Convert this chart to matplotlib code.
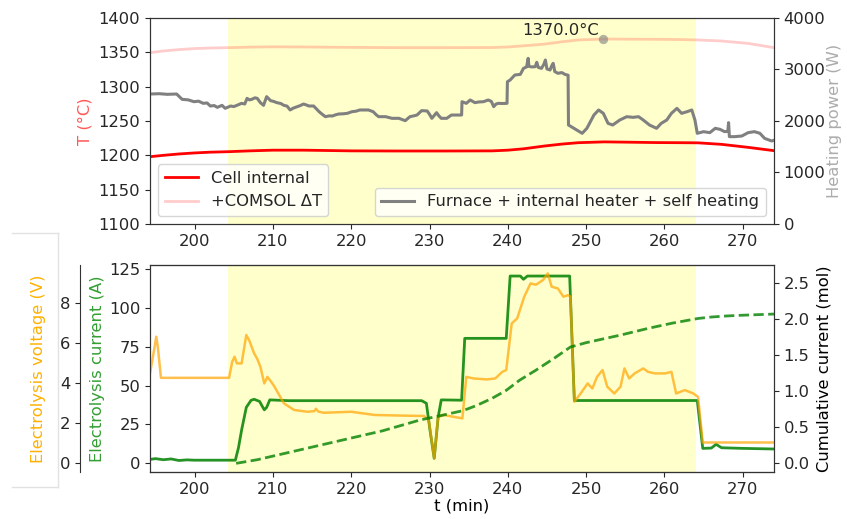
import matplotlib
matplotlib.use("Agg")
import matplotlib.pyplot as plt
from matplotlib.lines import Line2D

plt.rcParams['font.family'] = ['DejaVu Sans']
plt.rcParams['font.size'] = 11.8
TXT = '#262626'
plt.rcParams['text.color'] = TXT
plt.rcParams['xtick.color'] = TXT
plt.rcParams['ytick.color'] = TXT
plt.rcParams['axes.edgecolor'] = '#333333'

# ---------------- data ----------------
span = [204.3, 264.1]

t_cell = [194.3, 196, 198, 200, 202, 204.3, 207, 210, 214, 220, 226, 232, 238, 240,
          242, 244.7, 247, 249, 252.3, 255, 258.8, 262, 264.3, 267.3, 270.7, 274]
cell_T = [1198.0, 1200.0, 1202.0, 1203.5, 1204.6, 1205.3, 1206.5, 1207.5, 1207.5, 1206.5,
          1206.3, 1206.3, 1206.5, 1207.5, 1209.5, 1213.6, 1216.5, 1218.4, 1219.6, 1219.2,
          1218.6, 1218.4, 1218.2, 1216.0, 1211.6, 1206.8]
comsol_T = [1349.5, 1352.0, 1354.0, 1355.5, 1356.3, 1356.8, 1357.6, 1358.0, 1357.8, 1357.2,
            1356.8, 1356.8, 1357.0, 1357.8, 1359.5, 1362.0, 1365.5, 1368.0, 1369.4, 1369.2,
            1369.0, 1368.6, 1368.0, 1366.5, 1363.0, 1356.8]

peak_t = [252.2]
peak_T = [1370.0]
peak_label = '1370.0°C'

t_pow = [194.3, 195.5, 196.5, 197.7, 198.0, 198.4, 199.2, 199.9, 200.5, 201.1, 201.6, 202.0,
         202.5, 202.9, 203.5, 203.9, 204.6, 205.0, 205.4, 206.0, 206.4, 206.7, 207.0, 207.3,
         207.7, 208.0, 208.4, 208.8, 209.2, 209.7, 210.1, 210.5, 211.0, 211.4, 211.8, 212.2,
         212.6, 213.1, 213.5, 213.9, 214.3, 214.6, 215.2, 215.9, 216.3, 216.7, 217.2, 217.6,
         218.0, 218.4, 219.0, 219.5, 220.1, 220.6, 221.1, 221.4, 222.2, 222.8, 223.2, 223.5,
         224.4, 225.2, 226.1, 226.5, 226.9, 227.5, 228.0, 228.4, 229.0, 229.7, 230.0, 230.3,
         230.9, 231.2, 231.5, 232.2, 232.8, 233.5, 234.1, 234.15, 234.7, 235.2, 235.8, 236.3,
         236.9, 237.5, 237.9, 238.2, 238.5, 238.8, 239.3, 239.9, 239.95, 240.3, 240.9, 241.6,
         242.0, 242.4, 242.6, 242.7, 243.1, 243.5, 243.7, 243.9, 244.3, 244.6, 244.8, 245.0,
         245.4, 245.6, 245.8, 246.0, 246.4, 246.9, 247.3, 247.7, 247.75, 248.1, 248.8, 249.5,
         250.1, 251.0, 251.6, 252.2, 252.8, 253.4, 254.3, 255.2, 256.0, 256.7, 257.3, 258.1,
         259.0, 259.6, 260.3, 260.9, 261.6, 262.2, 262.9, 263.5, 263.9, 264.2, 265.0, 265.8,
         266.5, 267.1, 267.7, 268.1, 268.2, 268.3, 269.0, 269.9, 270.7, 271.5, 272.2, 272.8,
         273.7, 274.1]
power = [2524, 2530, 2518, 2524, 2480, 2421, 2410, 2375, 2385, 2343, 2350, 2291,
         2300, 2265, 2304, 2246, 2291, 2280, 2304, 2343, 2330, 2440, 2410, 2421,
         2450, 2440, 2356, 2304, 2473, 2395, 2380, 2356, 2340, 2304, 2290, 2214,
         2250, 2278, 2300, 2330, 2310, 2291, 2291, 2181, 2130, 2084, 2100, 2097,
         2120, 2136, 2140, 2149, 2181, 2190, 2214, 2214, 2214, 2181, 2120, 2084,
         2084, 2052, 2052, 2030, 2006, 2084, 2100, 2116, 2201, 2195, 2130, 2052,
         2162, 2100, 2052, 2052, 2116, 2116, 2116, 2375, 2343, 2408, 2356, 2370,
         2375, 2408, 2380, 2278, 2330, 2343, 2340, 2343, 2763, 2796, 2893, 2905,
         3022, 3050, 3217, 3060, 3050, 3055, 3140, 3040, 3022, 3100, 3184, 3010,
         2990, 3070, 3120, 2960, 2926, 2940, 2905, 2890, 1922, 1890, 1825, 1761,
         1858, 2116, 2214, 2149, 1955, 1922, 2019, 2084, 2071, 2084, 2019, 1922,
         1858, 1955, 2019, 2149, 2246, 2149, 2181, 2214, 2019, 1761, 1793, 1774,
         1858, 1838, 1793, 1800, 1968, 1696, 1696, 1709, 1774, 1793, 1761, 1663,
         1612, 1630]

t_cur = [194.3, 195.0, 196.0, 197.0, 198.0, 199.0, 200.0, 202.0, 204.0, 205.2, 205.6, 206.0,
         206.6, 207.2, 207.6, 208.3, 208.6, 208.9, 209.2, 209.6, 212.0, 220.0, 229.0, 229.6,
         230.1, 230.6, 231.1, 231.5, 234.1, 234.5, 239.8, 240.3, 241.6, 242.0, 242.5, 247.9,
         248.5, 264.2, 264.9, 266.0, 266.6, 267.3, 270.0, 274.0]
current = [2.5, 3.0, 2.3, 2.8, 1.8, 2.2, 2.0, 2.0, 2.0, 2.0, 10.0, 21.4,
           36.0, 40.5, 41.2, 39.8, 37.0, 34.4, 36.0, 40.8, 40.3, 40.3, 40.3, 38.6,
           20.0, 3.2, 29.6, 40.8, 40.6, 80.4, 80.4, 120.5, 120.5, 118.4, 120.5, 120.5,
           40.4, 40.4, 9.6, 9.8, 12.2, 10.0, 9.6, 9.2]

t_volt = [194.3, 194.8, 195.1, 195.3, 195.7, 200.0, 204.4, 204.8, 205.1, 205.4, 206.0, 206.6,
          207.0, 207.6, 208.0, 208.4, 208.9, 209.3, 209.8, 210.2, 211.4, 212.7, 214.4, 215.3,
          215.5, 215.8, 216.5, 220.0, 223.0, 226.4, 229.3, 229.9, 230.6, 231.1, 231.8, 234.2,
          234.7, 235.6, 237.3, 238.4, 239.3, 239.8, 240.5, 241.2, 242.1, 242.9, 243.6, 244.5,
          245.1, 245.6, 246.4, 247.1, 247.7, 248.0, 248.5, 249.3, 250.2, 250.8, 251.4, 252.1,
          252.7, 253.6, 254.4, 254.9, 255.5, 256.2, 257.3, 257.9, 258.8, 260.1, 260.9, 261.5,
          262.6, 263.7, 264.3, 264.9, 270.0, 274.0]
voltage = [4.48, 5.60, 6.31, 5.80, 4.26, 4.26, 4.26, 5.06, 5.31, 4.98, 4.98, 6.39,
           6.10, 5.48, 5.20, 4.81, 3.98, 4.31, 4.05, 3.82, 2.99, 2.66, 2.57, 2.60,
           2.72, 2.58, 2.52, 2.57, 2.41, 2.38, 2.36, 2.16, 0.25, 2.32, 2.41, 2.24,
           4.31, 4.23, 4.18, 4.23, 4.56, 4.65, 6.97, 7.22, 8.30, 8.96, 8.90, 9.13,
           9.46, 8.80, 8.71, 8.30, 8.38, 8.30, 3.07, 3.48, 3.98, 3.73, 4.31, 4.65,
           3.82, 3.48, 3.82, 4.73, 4.23, 4.48, 4.73, 4.56, 4.48, 4.48, 4.56, 3.48,
           3.65, 3.48, 3.31, 1.04, 1.04, 1.04]

t_cum = [205.3, 208, 212, 216, 220, 224, 228.8, 231, 234.3, 236, 238, 239.8, 241.5, 243.6,
         246, 248.0, 250, 254.4, 258, 261, 264.3, 266, 268, 270, 272, 274]
cum_mol = [0.0, 0.05, 0.15, 0.25, 0.35, 0.45, 0.60, 0.65, 0.73, 0.80, 0.90, 1.01, 1.15, 1.29,
           1.46, 1.61, 1.67, 1.775, 1.87, 1.94, 2.005, 2.025, 2.04, 2.05, 2.058, 2.066]

T_ticks = [1100, 1150, 1200, 1250, 1300, 1350, 1400]
P_ticks = [0, 1000, 2000, 3000, 4000]
I_ticks = [0, 25, 50, 75, 100, 125]
V_ticks = [0, 2, 4, 6, 8]
C_ticks = [0.0, 0.5, 1.0, 1.5, 2.0, 2.5]
x_ticks = [200, 210, 220, 230, 240, 250, 260, 270]

# ---------------- figure ----------------
W, H = 847, 519
fig = plt.figure(figsize=(W / 100, H / 100), dpi=100)

def box(l, t, r, b):
    return [l / W, 1 - b / H, (r - l) / W, (b - t) / H]

xlim = (194.3, 274.0)

# top panel
ax1 = fig.add_axes(box(150, 18, 774, 224))
ax1.axvspan(span[0], span[1], color='yellow', alpha=0.2, lw=0)
ax1.plot(t_cell, cell_T, color='red', lw=2, label='Cell internal')
ax1.plot(t_cell, comsol_T, color='red', alpha=0.2, lw=2, label='+COMSOL ΔT')
ax1.scatter(peak_t, peak_T, color='gray', alpha=0.6, s=45, zorder=5, lw=0)
ax1.text(peak_t[0] - 0.5, peak_T[0] + 12.5, peak_label, ha='right', va='center')
ax1.set_xlim(*xlim)
ax1.set_ylim(1100, 1400)
ax1.set_yticks(T_ticks)
ax1.set_xticks(x_ticks)
ax1.set_ylabel('T (°C)', color=(1.0, 0.35, 0.35))
ax1.legend(loc='lower left')

ax2 = ax1.twinx()
ax2.plot(t_pow, power, color='gray', lw=2.2, label='Furnace + internal heater + self heating')
ax2.set_ylim(0, 4000)
ax2.set_yticks(P_ticks)
ax2.set_ylabel('Heating power (W)', color='#acacac', labelpad=1)
ax2.legend(loc='lower right')

# bottom panel
ax3 = fig.add_axes(box(150, 265, 774, 472))
ax3.axvspan(span[0], span[1], color='yellow', alpha=0.2, lw=0)
ax3.plot(t_cur, current, color='green', alpha=0.85, lw=2)
ax3.set_xlim(*xlim)
ax3.set_ylim(-5.6, 127.6)
ax3.set_yticks(I_ticks)
ax3.set_xticks(x_ticks)
ax3.set_ylabel('Electrolysis current (A)', color=(0.2, 0.62, 0.2), labelpad=3)
ax3.set_xlabel('t (min)', labelpad=1)

ax4 = ax3.twinx()
ax4.plot(t_volt, voltage, color='orange', alpha=0.7, lw=1.8)
ax4.set_ylim(-0.43, 9.88)
ax4.set_yticks(V_ticks)
ax4.spines['left'].set_position(('outward', 50.4))
ax4.spines['left'].set_visible(True)
ax4.spines['right'].set_visible(False)
ax4.yaxis.set_ticks_position('left')
ax4.yaxis.set_label_position('left')
ax4.set_ylabel('Electrolysis voltage (V)', color='#ffb000', labelpad=10)

ax5 = ax3.twinx()
ax5.plot(t_cum, cum_mol, color='green', alpha=0.8, lw=2, ls='--')
ax5.set_ylim(-0.12, 2.745)
ax5.set_yticks(C_ticks)
ax5.set_ylabel('Cumulative current (mol)', labelpad=5)

# light frame around the pasted voltage label
def fl(x0, y0, x1, y1):
    fig.add_artist(Line2D([x0 / W, x1 / W], [1 - y0 / H, 1 - y1 / H],
                          color='#e2e2e2', lw=1, transform=fig.transFigure))
fl(11.7, 232.5, 58.3, 232.5)
fl(58.3, 232.5, 58.3, 486.7)
fl(11.7, 486.7, 58.3, 486.7)

fig.savefig('out.png', dpi=100)
